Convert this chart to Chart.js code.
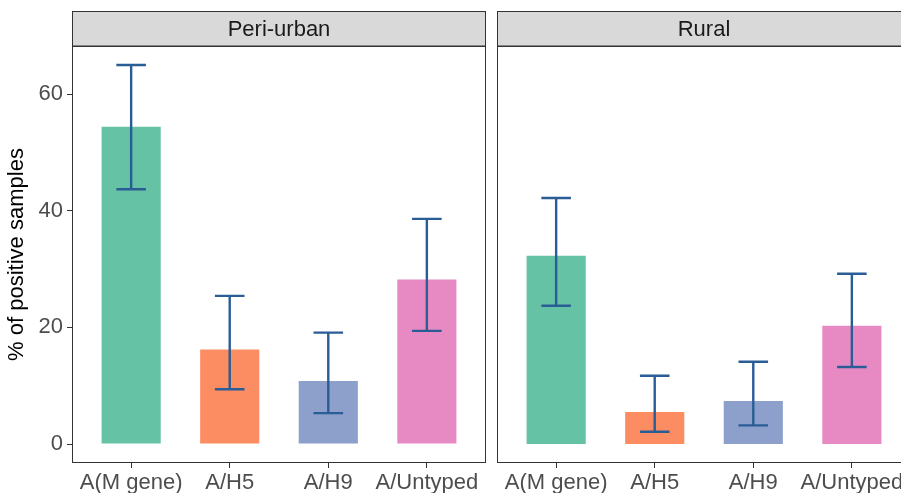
<!DOCTYPE html>
<html>
<head>
<meta charset="utf-8">
<script src="https://cdn.jsdelivr.net/npm/chart.js@4.4.1/dist/chart.umd.min.js"></script>
<style>
  html, body { margin: 0; padding: 0; width: 901px; height: 493px; overflow: hidden; background: #fff; }
  canvas { position: absolute; top: 0; }
</style>
</head>
<body>
<canvas id="peri" width="490" height="493" style="left:0px"></canvas>
<canvas id="rural" width="430" height="493" style="left:492px"></canvas>
<script>
const categories = ["A(M gene)", "A/H5", "A/H9", "A/Untyped"];
const periValues = [54.4, 16.2, 10.8, 28.2];
const periLower = [43.7, 9.4, 5.3, 19.4];
const periUpper = [65.0, 25.4, 19.1, 38.6];
const ruralValues = [32.3, 5.5, 7.4, 20.3];
const ruralLower = [23.7, 2.1, 3.2, 13.2];
const ruralUpper = [42.2, 11.7, 14.1, 29.2];
const yTicks = [0, 20, 40, 60];
const barColors = ["#66C2A5", "#FC8D62", "#8DA0CB", "#E78AC3"];

const FONT = "'Liberation Sans', Arial, sans-serif";

// strip header + panel border, ggplot facet style
const facetPlugin = {
  id: "facet",
  beforeDraw(chart) {
    const a = chart.chartArea;
    const c = chart.ctx;
    c.save();
    c.fillStyle = "#D9D9D9";
    c.fillRect(a.left, 11.5, a.right - a.left, 46 - 11.5);
    c.strokeStyle = "#333333";
    c.lineWidth = 1;
    c.strokeRect(a.left + 0.5, 11.5, a.right - a.left - 1, 46 - 11.5);
    c.fillStyle = "#1A1A1A";
    c.font = "22px " + FONT;
    c.textAlign = "center";
    c.textBaseline = "middle";
    c.fillText(chart.options.plugins.facet.title, (a.left + a.right) / 2, 29.5);
    c.restore();
  },
  afterDraw(chart) {
    const a = chart.chartArea;
    const c = chart.ctx;
    c.save();
    c.strokeStyle = "#333333";
    c.lineWidth = 1;
    c.strokeRect(a.left + 0.5, a.top + 0.5, a.right - a.left - 1, a.bottom - a.top - 1);
    c.restore();
  }
};

const errorBarPlugin = {
  id: "errbars",
  afterDatasetsDraw(chart) {
    const opts = chart.options.plugins.errbars;
    const xs = chart.scales.x;
    const ys = chart.scales.y;
    const half = xs.getPixelForValue(1.15) - xs.getPixelForValue(1);
    const c = chart.ctx;
    c.save();
    c.strokeStyle = "#2A5D96";
    c.lineWidth = 2.4;
    opts.lower.forEach((lo, i) => {
      const x = xs.getPixelForValue(i + 1);
      const yl = ys.getPixelForValue(lo);
      const yu = ys.getPixelForValue(opts.upper[i]);
      c.beginPath();
      c.moveTo(x, yl); c.lineTo(x, yu);
      c.moveTo(x - half, yl); c.lineTo(x + half, yl);
      c.moveTo(x - half, yu); c.lineTo(x + half, yu);
      c.stroke();
    });
    c.restore();
  }
};

function makePanel(id, title, values, lower, upper, showY, padding) {
  return new Chart(document.getElementById(id), {
    type: "bar",
    data: {
      datasets: [{
        data: values.map((v, i) => ({ x: i + 1, y: v })),
        backgroundColor: barColors,
        borderWidth: 0,
        barPercentage: 0.6,
        categoryPercentage: 1
      }]
    },
    options: {
      responsive: false,
      animation: false,
      layout: { padding: padding },
      plugins: {
        legend: { display: false },
        tooltip: { enabled: false },
        facet: { title: title },
        errbars: { lower: lower, upper: upper }
      },
      scales: {
        x: {
          type: "linear",
          offset: false,
          min: 0.4,
          max: 4.6,
          afterBuildTicks: s => { s.ticks = categories.map((c, i) => ({ value: i + 1 })); },
          afterFit: s => { s.height = 30; },
          ticks: {
            callback: v => categories[v - 1],
            color: "#4D4D4D",
            font: { family: FONT, size: 22 },
            padding: 2,
            maxRotation: 0,
            autoSkip: false
          },
          grid: { drawOnChartArea: false, offset: false, tickLength: 5, color: "#333333" },
          border: { display: false }
        },
        y: {
          display: showY,
          min: -3.25,
          max: 68.25,
          afterBuildTicks: s => { s.ticks = yTicks.map(v => ({ value: v })); },
          afterFit: s => { s.width = showY ? 72 : 0; },
          ticks: {
            color: "#4D4D4D",
            font: { family: FONT, size: 22 },
            padding: 4
          },
          grid: { drawOnChartArea: false, tickLength: 5, color: "#333333" },
          border: { display: false },
          title: {
            display: true,
            text: "% of positive samples",
            color: "#000000",
            font: { family: FONT, size: 22 },
            padding: { top: 4, bottom: 0 }
          }
        }
      }
    },
    plugins: [facetPlugin, errorBarPlugin]
  });
}

makePanel("peri", "Peri-urban", periValues, periLower, periUpper, true,
  { top: 46, left: 0, right: 4, bottom: 0 });
makePanel("rural", "Rural", ruralValues, ruralLower, ruralUpper, false,
  { top: 46, left: 5, right: 11, bottom: 0 });
</script>
</body>
</html>
